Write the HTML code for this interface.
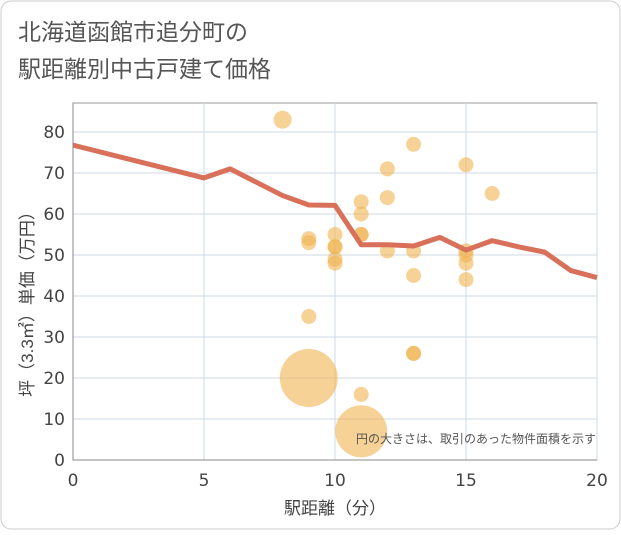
<!DOCTYPE html>
<html><head><meta charset="utf-8"><style>
html,body{margin:0;padding:0;background:#fff;}
svg text{font-family:"Liberation Sans","Noto Sans CJK JP",sans-serif;}
svg text.tick{font-family:"DejaVu Sans","Liberation Sans",sans-serif;}
</style></head><body>
<svg id="c" width="621" height="530" viewBox="0 0 621 530">
<rect x="1" y="1" width="619" height="528" rx="10" fill="#fff" stroke="#ccc"/>
<text x="18" y="40" font-size="23" fill="#555">北海道函館市追分町の</text>
<text x="18" y="77" font-size="23" fill="#555">駅距離別中古戸建て価格</text>
<g id="grid"></g>
<g id="bubbles"></g>
<g id="line"></g>
<g id="axes"></g>
<text x="596" y="443" font-size="12" fill="#555" text-anchor="end">円の大きさは、取引のあった物件面積を示す</text>
<text x="335" y="514" font-size="17" fill="#444" text-anchor="middle">駅距離（分）</text>
<text transform="translate(33,300) rotate(-90)" font-size="17" fill="#444" text-anchor="middle">坪（3.3㎡）単価（万円）</text>
</svg>
<script>
const xTicks=[0,5,10,15,20];
const yTicks=[0,10,20,30,40,50,60,70,80];
const lineX=[0,5,6,8,9,10,11,12,13,14,15,16,17,18,19,20];
const lineY=[76.8,68.8,71,64.5,62.2,62.1,52.5,52.5,52.2,54.3,51.2,53.5,52,50.7,46.2,44.5];
const bubX=[8,9,9,9,9,10,10,10,10,10,11,11,11,11,11,11,12,12,12,13,13,13,13,13,15,15,15,15,15,16];
const bubY=[83,54,53,35,20,55,52,52,49,48,63,60,55,55,16,7,71,64,51,77,51,45,26,26,72,51,50,48,44,65];
const bubR=[9,7.5,7.5,7.5,29,7.5,7.5,7.5,7.5,7.5,7.5,7.5,7.5,7.5,7.5,26,7.5,7.5,7.5,7.5,7.5,7.5,7.5,7.5,7.5,7.5,7.5,7.5,7.5,7.5];
const L=73,R=597,T=103,B=460;
const sx=v=>L+(R-L)*v/20;
const sy=v=>B-(B-132)*v/80;
const NS="http://www.w3.org/2000/svg";
function mk(t,a,p){const e=document.createElementNS(NS,t);for(const k in a)e.setAttribute(k,a[k]);p.appendChild(e);return e;}
const g=document.getElementById('grid');
const plot=mk('rect',{x:L,y:T,width:R-L,height:B-T,fill:'#fff',stroke:'#999'},g);


const ax=document.getElementById('axes');
xTicks.forEach(v=>{
 const l=mk('line',{x1:sx(v),x2:sx(v),y1:T,y2:B,stroke:'#cfdae6','stroke-width':1},g);
 
 
 const t=mk('text',{x:sx(v),y:B+26,'font-size':17,fill:'#444','text-anchor':'middle','class':'tick'},ax);t.textContent=v;
 
 
});
yTicks.forEach(v=>{
 const l=mk('line',{x1:L,x2:R,y1:sy(v),y2:sy(v),stroke:'#cfdae6','stroke-width':1},g);
 
 
 const t=mk('text',{x:L-8,y:sy(v)+6,'font-size':17,fill:'#444','text-anchor':'end','class':'tick'},ax);t.textContent=v;
 
 
});
const axl=mk('path',{d:`M${L},${T}V${B}H${R}`,fill:'none',stroke:'#888'},ax);


const bg=document.getElementById('bubbles');
bubX.forEach((x,i)=>{
 const c=mk('circle',{cx:sx(x),cy:sy(bubY[i]),r:bubR[i],fill:'rgba(240,180,80,0.6)'},bg);
 
 
});
const lg=document.getElementById('line');
const p=mk('polyline',{points:lineX.map((x,i)=>sx(x)+','+sy(lineY[i])).join(' '),fill:'none',stroke:'#d9705a','stroke-width':5,'stroke-linejoin':'round'},lg);


</script>
</body></html>
